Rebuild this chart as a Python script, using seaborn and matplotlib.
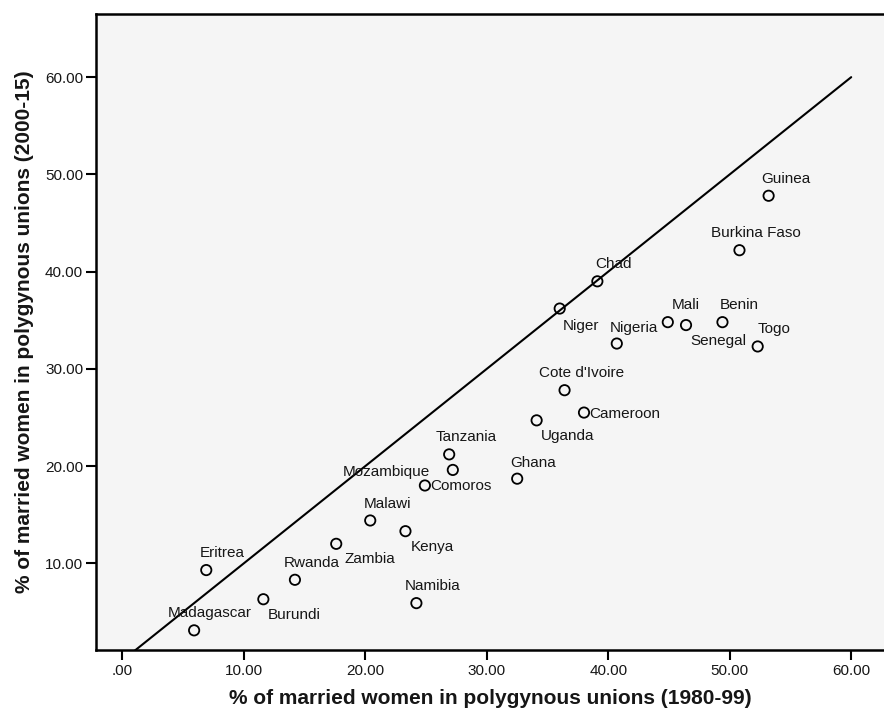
import matplotlib
matplotlib.use("Agg")
import matplotlib.pyplot as plt
import seaborn as sns
import pandas as pd

countries = ["Guinea", "Burkina Faso", "Chad", "Niger", "Mali", "Senegal", "Benin", "Togo",
             "Nigeria", "Cote d'Ivoire", "Cameroon", "Uganda", "Tanzania", "Mozambique",
             "Comoros", "Ghana", "Malawi", "Kenya", "Zambia", "Rwanda", "Eritrea", "Burundi",
             "Namibia", "Madagascar"]
pct_1980_99 = [53.2, 50.8, 39.1, 36.0, 44.9, 46.4, 49.4, 52.3,
               40.7, 36.4, 38.0, 34.1, 26.9, 27.2,
               24.9, 32.5, 20.4, 23.3, 17.6, 14.2, 6.9, 11.6,
               24.2, 5.9]
pct_2000_15 = [47.8, 42.2, 39.0, 36.2, 34.8, 34.5, 34.8, 32.3,
               32.6, 27.8, 25.5, 24.7, 21.2, 19.6,
               18.0, 18.7, 14.4, 13.3, 12.0, 8.3, 9.3, 6.3,
               5.9, 3.1]
ref_line = [0, 60]
x_ticks = [0, 10, 20, 30, 40, 50, 60]
y_ticks = [10, 20, 30, 40, 50, 60]

# label placement: (dx px, dy px up, horizontal alignment)
label_pos = {
    "Guinea": (17, 17, "center"), "Burkina Faso": (16, 17, "center"),
    "Chad": (16, 17, "center"), "Niger": (21, -17, "center"),
    "Nigeria": (17, 16, "center"), "Mali": (18, 17, "center"),
    "Benin": (17, 17, "center"), "Senegal": (32, -16, "center"),
    "Togo": (16, 17, "center"), "Cote d'Ivoire": (17, 17, "center"),
    "Cameroon": (5, -1, "left"), "Uganda": (31, -16, "center"),
    "Tanzania": (17, 17, "center"), "Mozambique": (-23, -2, "right"),
    "Comoros": (5, -1, "left"), "Ghana": (16, 16, "center"),
    "Malawi": (17, 16, "center"), "Kenya": (27, -16, "center"),
    "Zambia": (34, -15, "center"), "Rwanda": (17, 17, "center"),
    "Eritrea": (16, 17, "center"), "Burundi": (31, -16, "center"),
    "Namibia": (16, 17, "center"), "Madagascar": (16, 17, "center"),
}

df = pd.DataFrame({"country": countries, "x": pct_1980_99, "y": pct_2000_15})

sns.set_style("white")
plt.rcParams["font.family"] = ["Liberation Sans", "DejaVu Sans"]
text_color = "#161616"

fig = plt.figure(figsize=(8.84, 7.16), dpi=100)
ax = fig.add_axes([0.1083, 0.0922, 0.8917, 0.8883])
ax.set_facecolor("#f5f5f5")

sns.lineplot(x=ref_line, y=ref_line, ax=ax, color="black", linewidth=1.5)
sns.scatterplot(data=df, x="x", y="y", ax=ax, s=55, facecolor="none",
                edgecolor="black", linewidth=1.3, zorder=3)

for c, xv, yv in zip(countries, pct_1980_99, pct_2000_15):
    dx, dy, ha = label_pos[c]
    ax.annotate(c, (xv, yv), xytext=(dx, dy), textcoords="offset pixels",
                ha=ha, va="center", fontsize=11, color=text_color)

ax.set_xlim(-2.2, 62.7)
ax.set_ylim(1.08, 66.5)
ax.set_xticks(x_ticks)
ax.set_xticklabels([".00"] + ["%.2f" % v for v in x_ticks[1:]])
ax.set_yticks(y_ticks)
ax.set_yticklabels(["%.2f" % v for v in y_ticks])
ax.tick_params(axis="both", which="major", length=7, width=1.5, color="black",
               labelsize=11, labelcolor=text_color, direction="out",
               bottom=True, left=True)
ax.tick_params(axis="x", pad=3)
ax.tick_params(axis="y", pad=2)

for side in ["left", "bottom", "top"]:
    ax.spines[side].set_visible(True)
    ax.spines[side].set_color("black")
    ax.spines[side].set_linewidth(1.8)
ax.spines["right"].set_visible(False)

ax.set_xlabel("% of married women in polygynous unions (1980-99)", fontsize=15,
              fontweight="bold", color=text_color, labelpad=8)
ax.set_ylabel("% of married women in polygynous unions (2000-15)", fontsize=15,
              fontweight="bold", color=text_color, labelpad=8)

fig.savefig("out.png", dpi=100)
